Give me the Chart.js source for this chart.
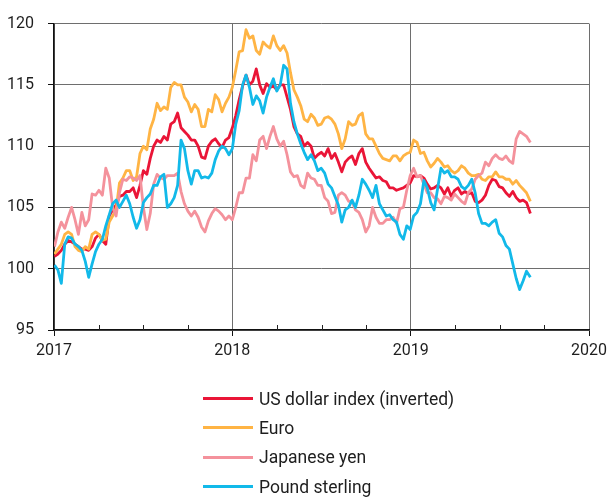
<!DOCTYPE html>
<html>
<head>
<meta charset="utf-8">
<script src="https://cdn.jsdelivr.net/npm/chart.js@4/dist/chart.umd.min.js"></script>
<style>
  html, body { margin: 0; padding: 0; background: #fff; }
  #wrap { position: relative; width: 612px; height: 502px; }
  #legend { position: absolute; left: 203px; top: 384px; font-family: Roboto, sans-serif; font-size: 17.5px; color: #1e1e1e; }
  .item { height: 29.3px; display: flex; align-items: center; }
  .swatch { width: 50px; height: 3px; margin-right: 6px; }
</style>
</head>
<body>
<div id="wrap">
  <canvas id="c" width="612" height="502"></canvas>
  <div id="legend"></div>
</div>
<script>
const seriesNames = ['US dollar index (inverted)', 'Euro', 'Japanese yen', 'Pound sterling'];
const seriesColors = ['#ea1537', '#ffb444', '#f4929c', '#12b9e9'];

const dates = [
  '2017-01-02','2017-01-09','2017-01-16','2017-01-23','2017-01-30','2017-02-06','2017-02-13','2017-02-20','2017-02-27','2017-03-06',
  '2017-03-13','2017-03-20','2017-03-27','2017-04-03','2017-04-10','2017-04-17','2017-04-24','2017-05-01','2017-05-08','2017-05-15',
  '2017-05-22','2017-05-29','2017-06-05','2017-06-12','2017-06-19','2017-06-26','2017-07-03','2017-07-10','2017-07-17','2017-07-24',
  '2017-07-31','2017-08-07','2017-08-14','2017-08-21','2017-08-28','2017-09-04','2017-09-11','2017-09-18','2017-09-25','2017-10-02',
  '2017-10-09','2017-10-16','2017-10-23','2017-10-30','2017-11-06','2017-11-13','2017-11-20','2017-11-27','2017-12-04','2017-12-11',
  '2017-12-18','2017-12-25','2018-01-01','2018-01-08','2018-01-15','2018-01-22','2018-01-29','2018-02-05','2018-02-12','2018-02-19',
  '2018-02-26','2018-03-05','2018-03-12','2018-03-19','2018-03-26','2018-04-02','2018-04-09','2018-04-16','2018-04-23','2018-04-30',
  '2018-05-07','2018-05-14','2018-05-21','2018-05-28','2018-06-04','2018-06-11','2018-06-18','2018-06-25','2018-07-02','2018-07-09',
  '2018-07-16','2018-07-23','2018-07-30','2018-08-06','2018-08-13','2018-08-20','2018-08-27','2018-09-03','2018-09-10','2018-09-17',
  '2018-09-24','2018-10-01','2018-10-08','2018-10-15','2018-10-22','2018-10-29','2018-11-05','2018-11-12','2018-11-19','2018-11-26',
  '2018-12-03','2018-12-10','2018-12-17','2018-12-24','2018-12-31','2019-01-07','2019-01-14','2019-01-21','2019-01-28','2019-02-04',
  '2019-02-11','2019-02-18','2019-02-25','2019-03-04','2019-03-11','2019-03-18','2019-03-25','2019-04-01','2019-04-08','2019-04-15',
  '2019-04-22','2019-04-29','2019-05-06','2019-05-13','2019-05-20','2019-05-27','2019-06-03','2019-06-10','2019-06-17','2019-06-24',
  '2019-07-01','2019-07-08','2019-07-15','2019-07-22','2019-07-29','2019-08-05','2019-08-12','2019-08-19','2019-08-26','2019-09-03'
];

const usdInverted = [
  101.0,101.2,101.5,102.0,102.3,102.2,102.0,101.8,101.6,101.6,
  101.5,101.8,102.5,102.8,102.3,102.0,104.3,104.8,105.2,105.9,
  106.0,106.3,106.3,106.6,105.8,106.8,108.0,107.7,109.0,110.0,
  110.5,110.3,110.8,110.5,111.8,112.0,112.7,111.5,111.2,110.9,
  110.5,110.5,110.0,109.1,109.0,110.0,110.4,110.6,110.2,109.9,
  110.5,110.7,111.5,112.5,113.8,114.9,115.8,115.0,115.3,116.3,
  115.0,114.3,115.1,114.8,114.9,114.6,115.0,115.0,114.0,113.0,
  111.6,111.0,110.8,110.0,110.3,110.0,109.0,109.3,109.5,109.2,
  109.8,109.0,109.4,108.7,107.9,108.7,109.0,109.2,108.5,109.4,
  109.8,108.7,108.2,107.8,107.4,107.5,107.2,107.1,106.6,106.6,
  106.4,106.5,106.6,106.8,107.0,107.6,107.5,107.6,107.4,106.9,
  106.5,106.6,106.8,106.6,106.1,106.6,105.9,106.4,106.6,106.1,
  106.3,106.1,106.2,105.5,105.4,105.6,106.0,106.8,107.3,107.2,
  106.7,106.6,106.2,105.9,106.3,105.8,105.5,105.6,105.4,104.5
];
const euro = [
  101.2,101.6,102.0,102.8,103.0,102.8,101.8,101.5,101.4,101.8,
  101.6,102.8,103.0,102.8,102.3,102.4,103.8,104.3,104.8,107.0,
  107.4,108.0,108.0,107.2,107.5,109.4,110.0,109.7,111.4,112.2,
  113.5,112.9,113.2,113.0,114.8,115.2,115.0,115.0,114.0,113.6,
  112.8,113.4,113.0,111.6,111.6,113.0,112.8,114.2,113.8,112.8,
  113.5,114.0,114.8,116.2,117.7,117.8,119.5,118.8,119.0,117.8,
  117.5,118.5,118.2,118.0,119.0,118.2,117.8,118.2,117.6,116.0,
  114.6,114.0,113.3,112.2,112.0,112.6,112.3,111.7,111.8,112.3,
  112.4,112.2,111.8,111.0,109.8,110.6,112.0,111.7,111.8,112.5,
  112.7,111.0,110.6,110.6,110.0,109.4,109.0,108.9,108.8,109.2,
  109.2,108.8,109.2,109.4,109.5,110.5,110.3,109.4,109.5,108.8,
  108.3,108.6,109.0,108.7,108.3,108.4,108.0,107.8,108.0,108.4,
  108.2,107.8,107.6,107.6,107.7,107.3,107.2,107.5,107.5,107.9,
  107.5,107.5,107.3,107.3,106.9,107.2,106.8,106.5,106.2,105.5
];
const yen = [
  101.8,103.0,103.8,103.3,104.2,105.0,104.0,102.8,104.6,103.5,
  104.0,106.1,106.0,106.4,106.0,108.2,107.4,105.0,104.3,106.2,
  107.3,107.2,107.5,107.4,107.2,107.6,105.0,103.2,104.5,106.9,
  107.7,107.4,107.3,107.6,107.6,107.6,107.8,106.3,105.3,104.7,
  104.3,104.7,104.2,103.4,103.0,103.9,104.5,104.9,104.7,104.4,
  104.0,104.3,104.0,105.0,106.2,106.2,107.4,107.4,109.3,108.8,
  110.5,110.8,109.8,110.8,111.6,110.6,110.0,110.4,109.3,107.9,
  107.5,107.6,106.8,106.6,107.8,107.4,107.3,106.8,106.8,105.8,
  105.5,104.5,104.6,106.0,106.2,106.0,105.5,105.5,104.8,104.6,
  104.0,103.0,103.5,105.0,104.2,103.7,103.7,104.0,104.0,104.2,
  103.7,104.9,105.0,106.4,107.6,108.2,107.5,107.6,106.9,106.2,
  106.2,105.8,105.7,105.3,105.9,105.8,105.6,106.1,105.8,105.5,
  105.3,106.2,106.5,107.3,107.6,107.8,108.7,108.4,109.0,109.3,
  109.0,108.9,109.2,108.8,108.6,110.6,111.2,111.0,110.8,110.3
];
const sterling = [
  100.3,99.9,98.8,102.0,102.6,102.5,102.0,101.8,101.5,100.6,
  99.3,100.4,101.4,102.0,102.4,103.5,104.4,105.3,105.6,105.0,
  105.5,106.0,105.3,104.2,103.3,104.0,105.4,105.8,106.1,106.8,
  106.8,107.5,107.7,105.0,105.3,105.8,106.8,110.5,109.8,108.0,
  106.9,108.0,108.0,107.4,107.5,107.4,107.8,108.9,109.6,110.0,
  109.8,109.3,109.8,111.8,112.9,115.0,115.8,114.8,113.4,114.1,
  113.7,112.7,114.0,114.8,115.5,114.5,115.0,116.6,116.3,113.5,
  112.0,111.0,110.2,109.5,108.9,109.3,108.8,108.0,108.2,107.8,
  106.9,106.6,105.9,105.2,103.8,104.8,105.0,105.6,105.0,106.0,
  107.3,106.9,106.4,105.8,106.8,105.3,104.8,104.3,104.4,104.0,
  103.8,102.8,102.4,103.5,103.2,104.3,104.6,105.3,107.2,106.6,
  105.4,104.8,106.5,108.2,107.8,108.0,107.5,107.5,107.3,106.7,
  106.5,106.8,107.3,106.2,104.5,103.7,103.7,103.5,103.8,104.0,
  102.9,102.6,101.9,101.6,100.4,99.2,98.3,99.0,99.8,99.3
];

const yTicks = [95, 100, 105, 110, 115, 120];
const xYears = [2017, 2018, 2019, 2020];

function toYear(s) {
  const d = new Date(s + 'T00:00:00Z');
  const y = d.getUTCFullYear();
  const a = Date.UTC(y, 0, 1), b = Date.UTC(y + 1, 0, 1);
  return y + (d.getTime() - a) / (b - a);
}
const xs = dates.map(toYear);
const allSeries = [usdInverted, euro, yen, sterling];

const datasets = allSeries.map((vals, i) => ({
  label: seriesNames[i],
  data: vals.map((v, j) => ({ x: xs[j], y: v })),
  borderColor: seriesColors[i],
  backgroundColor: seriesColors[i],
  borderWidth: 2.8,
  pointRadius: 0,
  tension: 0,
  borderJoinStyle: 'round',
  order: 4 - i
}));

const FONT = { family: 'Roboto, sans-serif', size: 16 };

const quarterTicks = {
  id: 'quarterTicks',
  afterDatasetsDraw(chart) {
    const sx = chart.scales.x, ca = chart.chartArea, ctx = chart.ctx;
    ctx.save();
    ctx.strokeStyle = '#222';
    ctx.lineWidth = 1;
    for (let v = xYears[0]; v < xYears[xYears.length - 1]; v += 0.25) {
      if (Number.isInteger(v)) continue;
      const px = Math.round(sx.getPixelForValue(v)) + 0.5;
      ctx.beginPath();
      ctx.moveTo(px, ca.bottom);
      ctx.lineTo(px, ca.bottom - 5);
      ctx.stroke();
    }
    ctx.restore();
  }
};

new Chart(document.getElementById('c'), {
  type: 'line',
  data: { datasets },
  options: {
    responsive: false,
    devicePixelRatio: 1,
    animation: false,
    layout: { padding: { top: 14, right: 21, left: 0, bottom: 0 } },
    plugins: { legend: { display: false }, tooltip: { enabled: false } },
    scales: {
      x: {
        type: 'linear',
        min: xYears[0], max: xYears[xYears.length - 1],
        afterBuildTicks: s => { s.ticks = xYears.map(v => ({ value: v })); },
        ticks: { autoSkip: false, maxRotation: 0, font: FONT, color: '#1e1e1e', padding: 5,
                 callback: v => String(v) },
        grid: { color: '#6e6e6e', lineWidth: 1, tickColor: '#111', tickLength: 6 },
        border: { display: true, color: '#111', width: 1.5 },
        afterFit: s => { s.height = 172; }
      },
      y: {
        min: yTicks[0], max: yTicks[yTicks.length - 1],
        afterBuildTicks: s => { s.ticks = yTicks.map(v => ({ value: v })); },
        ticks: { font: FONT, color: '#1e1e1e', padding: 14 },
        grid: { color: '#6e6e6e', lineWidth: 1, tickColor: '#111', tickLength: 6 },
        border: { display: true, color: '#111', width: 1.5 },
        afterFit: s => { s.width = 54; }
      }
    }
  },
  plugins: [quarterTicks]
});

const lg = document.getElementById('legend');
seriesNames.forEach((n, i) => {
  const it = document.createElement('div');
  it.className = 'item';
  const sw = document.createElement('span');
  sw.className = 'swatch';
  sw.style.background = seriesColors[i];
  const tx = document.createElement('span');
  tx.textContent = n;
  it.appendChild(sw); it.appendChild(tx);
  lg.appendChild(it);
});
</script>
</body>
</html>
